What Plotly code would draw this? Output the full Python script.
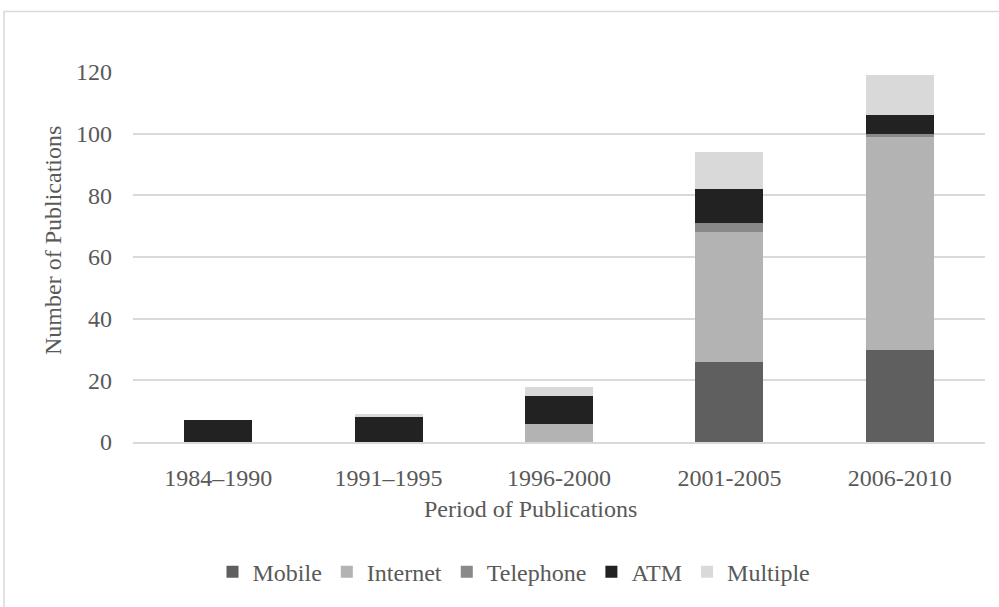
import plotly.graph_objects as go

periods = ["1984–1990", "1991–1995", "1996-2000", "2001-2005", "2006-2010"]
mobile = [0, 0, 0, 26, 30]
internet = [0, 0, 6, 42, 69]
telephone = [0, 0, 0, 3, 1]
atm = [7, 8, 9, 11, 6]
multiple = [0, 1, 3, 12, 13]

series = [
    ("Mobile", mobile, "#5f5f5f"),
    ("Internet", internet, "#b3b3b3"),
    ("Telephone", telephone, "#898989"),
    ("ATM", atm, "#222222"),
    ("Multiple", multiple, "#d9d9d9"),
]

x_title = "Period of Publications"
y_title = "Number of Publications"

FONT = "Liberation Serif, Times New Roman, serif"
TXT = "#595959"
FS = 24

fig = go.Figure()
for name, vals, col in series:
    fig.add_trace(go.Bar(x=periods, y=vals, name=name, marker=dict(color=col, line=dict(width=0))))

L, R, T, B = 133, 14, 71.5, 160
W, H = 999, 607
pw = W - L - R
ph = H - T - B


def px_x(px):
    return (px - L) / pw


def px_y(py):
    return (T + ph - py) / ph


fig.update_layout(
    barmode="stack",
    bargap=0.6,
    width=W, height=H,
    margin=dict(l=L, r=R, t=T, b=B, pad=0),
    paper_bgcolor="white",
    plot_bgcolor="white",
    font=dict(family=FONT, size=FS, color=TXT),
    showlegend=True,
    legend=dict(
        orientation="h",
        x=px_x(514), xanchor="center",
        y=px_y(579), yanchor="middle",
        font=dict(family=FONT, size=FS, color=TXT),
        traceorder="normal",
        itemwidth=30,
    ),
    xaxis=dict(
        showgrid=False,
        showline=True, linecolor="#d9d9d9", linewidth=1.5,
        ticks="",
        ticklabelstandoff=13,
        tickfont=dict(family=FONT, size=FS, color=TXT),
    ),
    yaxis=dict(
        range=[0, 120],
        dtick=20,
        showgrid=True, gridcolor="#d9d9d9", gridwidth=1.5,
        zeroline=False,
        ticks="",
        ticklabelstandoff=20,
        tickfont=dict(family=FONT, size=FS, color=TXT),
    ),
)

fig.add_annotation(
    text=x_title, xref="paper", yref="paper",
    x=px_x(530), y=px_y(515), xanchor="center", yanchor="middle",
    showarrow=False, font=dict(family=FONT, size=FS, color=TXT),
)
fig.add_annotation(
    text=y_title, xref="paper", yref="paper",
    x=px_x(53), y=px_y(243), xanchor="center", yanchor="middle",
    textangle=-90,
    showarrow=False, font=dict(family=FONT, size=FS, color=TXT),
)

# outer chart frame (partly cropped at right/bottom)
fig.add_shape(
    type="rect", xref="paper", yref="paper",
    x0=px_x(4), x1=px_x(W + 30),
    y0=px_y(H + 30), y1=px_y(10),
    line=dict(color="#d9d9d9", width=1.5),
    fillcolor="rgba(0,0,0,0)", layer="below",
)

fig.write_html("out.html")
